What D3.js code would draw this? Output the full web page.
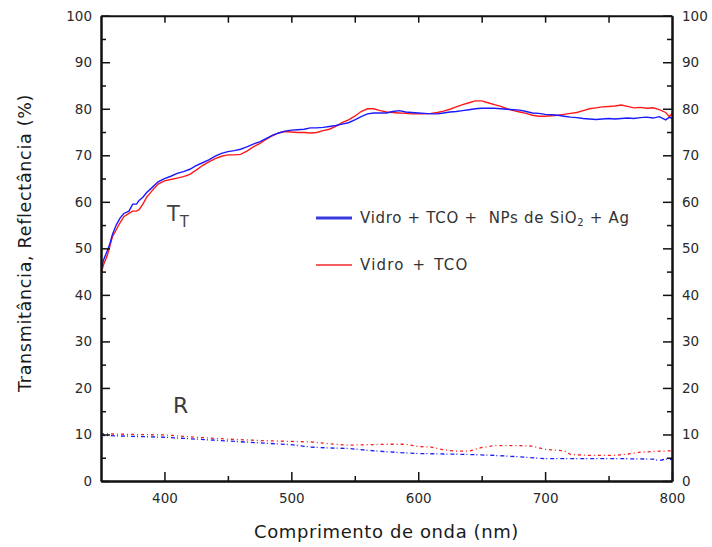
<!DOCTYPE html>
<html><head><meta charset="utf-8">
<script src="https://cdn.jsdelivr.net/npm/d3@7"></script>
<style>body{margin:0;background:#fff}svg{display:block}</style>
</head><body>
<svg id="c" width="712" height="547"></svg>
<script>
// ---- data ----
const tWl = [350,352,355,357,359,362,365,368,372,375,378,380,383,386,390,395,400,405,410,415,420,425,430,435,440,445,450,455,460,465,470,475,480,485,490,495,500,505,510,515,520,525,530,535,540,545,550,555,560,565,570,575,580,585,590,595,600,605,610,615,620,625,630,635,640,645,650,655,660,665,670,675,680,685,690,695,700,705,710,715,720,725,730,735,740,745,750,755,760,765,770,775,780,785,790,795,798,800];
const tNPs = [45.5,47.5,49.5,51,53,55,56.5,57.5,58,59.5,59.5,60.3,61,62,63,64.3,65,65.5,66.1,66.5,67,67.8,68.4,69,69.8,70.4,70.8,71,71.3,71.8,72.4,72.9,73.6,74.3,74.8,75.2,75.4,75.5,75.6,75.9,75.9,76,76.2,76.4,76.7,77,77.6,78.3,78.9,79.1,79.1,79.1,79.4,79.6,79.3,79.2,79.1,79.0,78.9,78.9,79.1,79.3,79.4,79.6,79.8,80.0,80.1,80.1,80.1,80.0,79.9,79.8,79.7,79.4,79.1,79.0,78.8,78.7,78.6,78.4,78.2,78.1,77.9,77.8,77.7,77.8,77.9,77.8,77.9,78.0,77.9,78.1,78.2,78.0,78.3,77.6,78.2,77.9];
const tTCO = [44.5,46.5,48.5,50.5,52.5,54,55.5,56.8,57.5,58,58,58.3,59.5,61,62.3,63.8,64.5,64.8,65.1,65.4,65.9,66.8,67.8,68.6,69.3,69.8,70.1,70.1,70.2,70.9,71.8,72.5,73.4,74.2,74.8,75.1,75.0,74.9,74.9,74.8,74.9,75.3,75.6,76.2,77.0,77.6,78.4,79.4,80.0,80.0,79.6,79.3,79.2,79.1,79.0,78.9,78.9,78.9,79.0,79.2,79.5,79.9,80.4,80.9,81.3,81.7,81.7,81.3,80.9,80.5,80.0,79.6,79.3,79.0,78.6,78.4,78.4,78.5,78.6,78.8,79.0,79.2,79.6,80.0,80.2,80.4,80.5,80.6,80.8,80.5,80.2,80.3,80.1,80.2,79.8,79.2,78.3,79.0];
const rWlTCO = [350,360,375,400,425,450,475,500,515,530,545,560,575,590,600,610,620,630,640,650,660,680,690,700,715,720,735,755,765,775,790,800];
const rTCO = [10.2,10.1,10.0,9.9,9.4,9.0,8.7,8.5,8.4,8.0,7.7,7.8,7.9,7.9,7.4,7.3,6.7,6.4,6.4,7.2,7.6,7.6,7.5,6.8,6.5,5.7,5.5,5.5,5.8,6.2,6.4,6.5];
const rWlNPs = [350,375,400,425,450,475,500,515,530,545,560,585,600,620,640,660,680,700,730,760,785,790,795,800];
const rNPs = [9.8,9.6,9.4,9.0,8.6,8.2,7.8,7.3,7.1,7.0,6.6,6.1,5.9,5.8,5.7,5.5,5.2,4.8,4.8,4.8,4.7,4.4,4.7,4.6];
const xTicks = [400,500,600,700,800];
const yTicks = [0,10,20,30,40,50,60,70,80,90,100];
const legendLabels = ["Vidro + TCO +  NPs de SiO", "Vidro + TCO"];
const xTitle = "Comprimento de onda (nm)";
const yTitle = "Transmitância, Reflectância (%)";

// ---- chart ----
const svg = d3.select("#c");
const L=101, R=672, T=15.7, B=481;
const x = d3.scaleLinear().domain([350,800]).range([L,R]);
const y = d3.scaleLinear().domain([0,100]).range([B,T]);
const font = "DejaVu Sans, Verdana, sans-serif";

svg.append("defs").append("clipPath").attr("id","clip")
  .append("rect").attr("x",L).attr("y",T).attr("width",R-L).attr("height",B-T);

const plot = svg.append("g").attr("clip-path","url(#clip)");
const line = (xs) => d3.line().x((d,i)=>x(xs[i])).y(d=>y(d));

plot.append("path").datum(tTCO).attr("d",line(tWl)).attr("fill","none").attr("stroke","#ff1a1a").attr("stroke-width",1.4);
plot.append("path").datum(tNPs).attr("d",line(tWl)).attr("fill","none").attr("stroke","#1a1aff").attr("stroke-width",1.4);
plot.append("path").datum(rTCO).attr("d",line(rWlTCO)).attr("fill","none").attr("stroke","#ff1a1a").attr("stroke-width",1.3).attr("stroke-dasharray","3,3,1,3");
plot.append("path").datum(rNPs).attr("d",line(rWlNPs)).attr("fill","none").attr("stroke","#1a1aff").attr("stroke-width",1.3).attr("stroke-dasharray","4,2,1,3");

// axes
function styleAxis(g){
  g.select(".domain").attr("stroke","#111").attr("stroke-width",2);
  g.selectAll(".tick line").attr("stroke","#111").attr("stroke-width",1.5);
  g.selectAll(".tick text").attr("fill","#2a2a2a").style("font-family",font).style("font-size","13.5px");
}
const minorY = d3.range(5,100,10);
const minorX = d3.range(450,800,100);

svg.append("g").attr("transform",`translate(0,${B})`)
  .call(d3.axisBottom(x).tickValues(xTicks).tickSizeInner(-9).tickSizeOuter(0).tickPadding(12)).call(styleAxis);
svg.append("g").attr("transform",`translate(0,${B})`)
  .call(d3.axisBottom(x).tickValues(minorX).tickSizeInner(-5).tickSizeOuter(0).tickFormat("")).call(styleAxis);
svg.append("g").attr("transform",`translate(0,${T})`)
  .call(d3.axisTop(x).tickValues(d3.range(400,800,50)).tickSizeInner(-7).tickSizeOuter(0).tickFormat("")).call(styleAxis);
svg.append("g").attr("transform",`translate(${L},0)`)
  .call(d3.axisLeft(y).tickValues(yTicks).tickSizeInner(-9).tickSizeOuter(0).tickPadding(9)).call(styleAxis);
svg.append("g").attr("transform",`translate(${L},0)`)
  .call(d3.axisLeft(y).tickValues(minorY).tickSizeInner(-5).tickSizeOuter(0).tickFormat("")).call(styleAxis);
svg.append("g").attr("transform",`translate(${R},0)`)
  .call(d3.axisRight(y).tickValues(yTicks).tickSizeInner(-9).tickSizeOuter(0).tickPadding(10)).call(styleAxis);
svg.append("g").attr("transform",`translate(${R},0)`)
  .call(d3.axisRight(y).tickValues(minorY).tickSizeInner(-5).tickSizeOuter(0).tickFormat("")).call(styleAxis);

// titles
svg.append("text").attr("x",(L+R)/2+0).attr("y",538).attr("text-anchor","middle")
  .style("font-family",font).style("font-size","18px").style("letter-spacing","0.6px").attr("fill","#1a1a1a").text(xTitle);
svg.append("text").attr("transform",`translate(31,243) rotate(-90)`).attr("text-anchor","middle")
  .style("font-family",font).style("font-size","17.5px").style("letter-spacing","0.7px").attr("fill","#1a1a1a").text(yTitle);

// annotations
const tt = svg.append("text").attr("x",167).attr("y",221).style("font-family",font).style("font-size","21px").attr("fill","#444");
tt.append("tspan").text("T");
tt.append("tspan").attr("dy",6).style("font-size","15px").text("T");
svg.append("text").attr("x",173).attr("y",413).style("font-family",font).style("font-size","22px").attr("fill","#3a3a3a").text("R");

// legend
const lg = svg.append("g");
lg.append("line").attr("x1",316).attr("x2",352).attr("y1",218).attr("y2",218).attr("stroke","#3a3ae0").attr("stroke-width",3);
lg.append("line").attr("x1",316).attr("x2",352).attr("y1",265).attr("y2",265).attr("stroke","#ee2a2a").attr("stroke-width",1.5);
const t1 = lg.append("text").attr("x",360).attr("y",223).style("font-family",font).style("font-size","15px")
  .style("letter-spacing","0.7px").style("white-space","pre").attr("fill","#333");
t1.append("tspan").text(legendLabels[0]);
t1.append("tspan").attr("dy",3).style("font-size","10px").text("2");
t1.append("tspan").attr("dy",-3).text(" + Ag");
lg.append("text").attr("x",360).attr("y",270).style("font-family",font).style("font-size","15px")
  .style("letter-spacing","1.2px").style("word-spacing","2px").attr("fill","#333").text(legendLabels[1]);
</script>
</body></html>
